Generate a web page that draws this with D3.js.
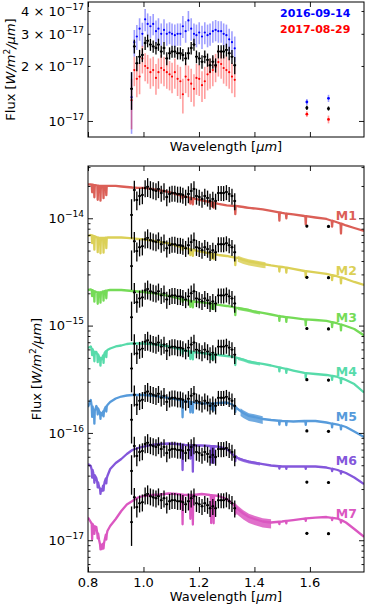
<!DOCTYPE html>
<html><head><meta charset="utf-8">
<script src="https://cdn.jsdelivr.net/npm/d3@7/dist/d3.min.js"></script>
<style>
html,body{margin:0;padding:0;background:#fff;}
svg{display:block;}
text{font-family:"DejaVu Sans","Liberation Sans",sans-serif;}
</style></head>
<body><svg id="chart" width="366" height="609"></svg>
<script>
// ---------------- DATA ----------------
const epochNames = ["2016-09-14", "2017-08-29"];
// IFS YJ channel wavelengths (micron)
const ifsWave = [0.957,0.967,0.976,0.986,0.996,1.006,1.015,1.025,1.035,1.045,1.054,1.064,1.074,1.084,1.094,1.103,1.113,1.123,1.133,1.142,1.152,1.162,1.172,1.182,1.191,1.201,1.211,1.221,1.231,1.240,1.250,1.260,1.270,1.280,1.289,1.299,1.309,1.319,1.329];
// combined spectrum (black), units 1e-17 W/m2/um
const fluxBlack = [1.50,2.56,2.07,2.25,2.30,2.67,2.75,2.62,2.56,2.51,2.62,2.40,2.51,2.20,2.35,2.40,2.40,2.35,2.35,2.30,2.20,2.35,2.51,2.62,2.25,2.20,2.11,2.25,2.16,2.02,2.11,2.02,2.40,2.40,2.40,2.45,2.35,2.25,2.02];
const errBlack  = [0.35,0.22,0.2,0.2,0.2,0.22,0.22,0.2,0.2,0.2,0.2,0.18,0.2,0.18,0.18,0.18,0.18,0.18,0.18,0.18,0.18,0.18,0.2,0.2,0.18,0.18,0.18,0.18,0.18,0.18,0.18,0.18,0.2,0.2,0.2,0.2,0.2,0.2,0.22];
// epoch 1 (blue) and epoch 2 (red)
const fluxBlue = [1.35,2.7,2.9,3.2,3.0,3.6,3.4,3.3,3.4,3.1,3.2,3.0,3.15,3.0,3.05,3.0,2.95,3.0,3.0,3.3,3.1,3.55,3.2,3.0,2.95,3.05,2.9,3.05,2.95,3.0,3.1,3.15,3.1,3.1,3.0,2.95,2.8,2.7,2.5];
const errBlue  = [0.5,0.45,0.45,0.45,0.45,0.5,0.48,0.45,0.45,0.45,0.45,0.42,0.45,0.42,0.42,0.42,0.42,0.42,0.42,0.45,0.42,0.45,0.45,0.42,0.42,0.42,0.42,0.42,0.42,0.42,0.42,0.42,0.42,0.42,0.42,0.42,0.4,0.4,0.4];
const fluxRed  = [1.3,1.9,1.7,1.75,2.2,2.0,1.95,1.85,1.9,1.72,1.85,1.95,1.9,1.85,1.8,1.75,1.85,1.7,1.65,1.4,1.75,1.68,1.6,1.5,1.72,1.7,1.57,1.65,1.8,1.85,1.9,1.98,2.1,2.05,1.95,1.9,1.85,1.75,1.68];
const errRed   = [0.4,0.35,0.35,0.35,0.38,0.35,0.35,0.35,0.35,0.33,0.35,0.35,0.35,0.35,0.33,0.33,0.35,0.33,0.33,0.3,0.33,0.33,0.33,0.3,0.33,0.33,0.3,0.33,0.33,0.35,0.35,0.35,0.35,0.35,0.35,0.35,0.35,0.33,0.33];
// relative error used in the model-comparison panel
const errFracModel = [0.4,0.22,0.2,0.18,0.18,0.18,0.2,0.18,0.18,0.18,0.18,0.17,0.18,0.18,0.17,0.17,0.17,0.17,0.17,0.17,0.17,0.18,0.18,0.18,0.17,0.17,0.17,0.17,0.17,0.17,0.17,0.17,0.16,0.16,0.16,0.16,0.16,0.17,0.18];
// IRDIS H2/H3 photometry
const photWave  = [1.589, 1.667];
const photBlack = [1.18, 1.17];
const photBlackErr = [0.03, 0.03];
const photBlue  = [1.27, 1.33];
const photBlueErr = [0.05, 0.06];
const photRed   = [1.09, 1.02];
const photRedErr = [0.04, 0.05];

// model spectra (units 1e-14 W/m2/um, before the vertical offset)
const modelNames = ["M1","M2","M3","M4","M5","M6","M7"];
const modelOffsets = [1, 3, 9, 27, 81, 243, 729];   // divisors
const dataScale = 717;                               // data -> model scaling
const modelWave = [0.80,0.81,0.82,0.83,0.84,0.85,0.86,0.87,0.88,0.90,0.92,0.94,0.96,0.98,1.00,1.03,1.06,1.09,1.12,1.15,1.18,1.21,1.24,1.27,1.30,1.32,1.34,1.36,1.38,1.40,1.43,1.46,1.50,1.54,1.58,1.62,1.66,1.70,1.73,1.76,1.795];
const modelM1 = [2.074,2.065,2.043,2.021,2.0,2.0,2.0,2.0,2.0,2.0,1.978,1.957,1.936,1.924,1.916,1.876,1.815,1.759,1.667,1.596,1.529,1.465,1.418,1.359,1.321,1.307,1.296,1.274,1.253,1.234,1.208,1.17,1.121,1.085,1.05,1.017,0.985,0.914,0.857,0.812,0.761];
const modelM2 = [2.052,2.096,2.052,2.009,1.966,1.966,1.966,1.987,1.987,1.987,1.987,1.966,1.945,1.924,1.904,1.863,1.803,1.748,1.656,1.586,1.52,1.456,1.41,1.365,1.336,1.307,1.28,1.226,1.187,1.162,1.125,1.09,1.055,1.011,0.968,0.938,0.908,0.861,0.816,0.765,0.717];
const modelM3 = [1.932,1.954,1.891,1.851,1.831,1.851,1.891,1.912,1.932,1.932,1.932,1.912,1.891,1.871,1.851,1.812,1.755,1.699,1.627,1.559,1.51,1.478,1.447,1.401,1.371,1.342,1.313,1.285,1.258,1.218,1.18,1.142,1.094,1.06,1.03,1.015,0.994,0.942,0.892,0.837,0.728];
const modelM4 = [1.67,1.725,1.533,1.533,1.377,1.319,1.5,1.6,1.652,1.725,1.762,1.82,1.84,1.84,1.84,1.82,1.781,1.725,1.652,1.582,1.533,1.5,1.468,1.437,1.406,1.385,1.347,1.305,1.25,1.223,1.185,1.147,1.087,1.03,0.977,0.956,0.936,0.897,0.84,0.771,0.643];
const modelM5 = [1.413,1.642,1.242,1.443,1.296,1.19,1.353,1.475,1.573,1.696,1.769,1.808,1.828,1.828,1.828,1.808,1.769,1.72,1.66,1.6,1.56,1.53,1.523,1.539,1.556,1.491,1.353,1.242,1.165,1.14,1.092,1.069,1.046,1.035,1.046,1.046,1.013,0.97,0.92,0.835,0.742];
const modelM6 = [1.247,1.195,1.006,0.924,0.761,0.699,0.848,0.964,1.121,1.274,1.389,1.546,1.685,1.759,1.815,1.876,1.916,1.936,1.916,1.876,1.856,1.856,1.835,1.815,1.721,1.546,1.418,1.359,1.316,1.288,1.247,1.208,1.182,1.182,1.182,1.182,1.157,1.097,1.028,0.934,0.812];
const modelM7 = [1.187,1.078,0.989,0.968,0.733,0.604,0.733,0.889,0.989,1.15,1.365,1.569,1.692,1.824,1.884,1.924,1.945,1.987,1.966,1.924,1.924,1.966,1.924,1.884,1.766,1.603,1.425,1.294,1.2,1.15,1.09,1.067,1.09,1.125,1.162,1.187,1.2,1.162,1.067,0.928,0.786];
// absorption lines: wavelength and line-core / continuum ratio per model
const lineWave = [0.815,0.823,0.835,0.845,0.856,0.866,1.141,1.169,1.178,1.244,1.253,1.331,1.49,1.515,1.585,1.68,1.712];
const lineM1 = [0.85,0.77,0.74,0.73,0.77,0.82,0.95,0.88,0.88,0.92,0.9,0.84,0.84,0.9,0.84,0.88,0.81];
const lineM2 = [0.85,0.75,0.73,0.72,0.73,0.8,0.95,0.88,0.88,0.9,0.9,0.85,0.9,0.9,0.88,0.9,0.88];
const lineM3 = [0.88,0.8,0.78,0.8,0.82,0.85,0.95,0.88,0.88,0.9,0.9,0.85,0.9,0.9,0.88,0.9,0.88];
const lineM4 = [0.88,0.82,0.85,0.85,0.85,0.88,0.92,0.85,0.85,0.9,0.9,0.85,0.92,0.92,0.9,0.92,0.9];
const lineM5 = [0.8,0.76,0.88,0.88,0.9,0.9,0.7,0.8,0.8,0.88,0.86,0.9,0.92,0.92,0.92,0.92,0.92];
const lineM6 = [0.85,0.85,0.9,0.9,0.9,0.9,0.58,0.75,0.57,0.7,0.7,0.9,0.95,0.95,0.95,0.95,0.95];
const lineM7 = [0.72,0.85,0.9,0.9,0.9,0.9,0.53,0.6,0.53,0.55,0.55,0.85,0.95,0.95,0.95,0.95,0.95];
// noisy (telluric) stretch per model: start, end (micron), fractional scatter
const noiseM = [[1.34,1.40,0.02],[1.34,1.44,0.08],[1.34,1.42,0.04],[1.34,1.42,0.04],[1.35,1.43,0.10],[1.34,1.42,0.04],[1.33,1.46,0.12]];

const xTickValues = [0.8, 1.0, 1.2, 1.4, 1.6];
const topYTickLabels = [[1e-17, "", "17"], [2e-17, "2 × ", "17"], [3e-17, "3 × ", "17"], [4e-17, "4 × ", "17"]];
const botYTickLabels = [[1e-17, "17"], [1e-16, "16"], [1e-15, "15"], [1e-14, "14"]];

// ---------------- LAYOUT / STYLE ----------------
const models = [modelM1, modelM2, modelM3, modelM4, modelM5, modelM6, modelM7];
const lineDepths = [lineM1, lineM2, lineM3, lineM4, lineM5, lineM6, lineM7];
const modelColors = ["#db5f57","#dbd057","#75db57","#57dbaa","#579bdb","#8457db","#db57c1"];
const labelY = [219.5, 274.5, 321.5, 376, 420.5, 465, 518];
const L = 88, R = 364, T1 = 2, B1 = 137, T2 = 166, B2 = 572;

const svg = d3.select("#chart");
const x = d3.scaleLinear().domain([0.8, 1.795]).range([L, R]);
const yTop = d3.scaleLog().domain([0.817e-17, 4.48e-17]).range([B1, T1]);
const yBot = d3.scaleLog().domain([5.06e-18, 3.07e-14]).range([B2, T2]);

const defs = svg.append("defs");
defs.append("clipPath").attr("id","clipTop").append("rect").attr("x",L).attr("y",T1).attr("width",R-L).attr("height",B1-T1);
defs.append("clipPath").attr("id","clipBot").append("rect").attr("x",L).attr("y",T2).attr("width",R-L).attr("height",B2-T2);

function errSeries(g, ys, waves, vals, errs, unit, color, barOp, barW, r, capHalf) {
  waves.forEach((w, i) => {
    const v = vals[i], e = errs[i];
    const lo = Math.max(v - e, v * 0.05);
    g.append("line").attr("x1", x(w)).attr("x2", x(w))
      .attr("y1", ys((v + e) * unit)).attr("y2", ys(lo * unit))
      .attr("stroke", color).attr("stroke-opacity", barOp).attr("stroke-width", barW);
    if (capHalf) g.append("line").attr("x1", x(w) - capHalf).attr("x2", x(w) + capHalf)
      .attr("y1", ys(v * unit)).attr("y2", ys(v * unit)).attr("stroke", color).attr("stroke-width", 1.2);
    g.append("circle").attr("cx", x(w)).attr("cy", ys(v * unit)).attr("r", r).attr("fill", color);
  });
}

// ---------- top panel ----------
const gTop = svg.append("g").attr("clip-path", "url(#clipTop)");
errSeries(gTop, yTop, ifsWave, fluxBlue, errBlue, 1e-17, "#0000ff", 0.38, 1.6, 1.1, 0);
errSeries(gTop, yTop, photWave, photBlue, photBlueErr, 1e-17, "#0000ff", 0.38, 1.6, 1.4, 0);
errSeries(gTop, yTop, ifsWave, fluxRed, errRed, 1e-17, "#ff0000", 0.38, 1.6, 1.1, 0);
errSeries(gTop, yTop, photWave, photRed, photRedErr, 1e-17, "#ff0000", 0.38, 1.6, 1.4, 0);
errSeries(gTop, yTop, ifsWave, fluxBlack, errBlack, 1e-17, "#000", 1, 1.3, 1.2, 1.4);
errSeries(gTop, yTop, photWave, photBlack, photBlackErr, 1e-17, "#000", 1, 1.3, 1.5, 0);

// ---------- bottom panel ----------
const gBot = svg.append("g").attr("clip-path", "url(#clipBot)");
function interpLog(k, w) {
  const mv = models[k];
  for (let i = 0; i < modelWave.length - 1; i++) {
    if (w >= modelWave[i] && w <= modelWave[i+1]) {
      const t = (w - modelWave[i]) / (modelWave[i+1] - modelWave[i]);
      return Math.exp(Math.log(mv[i]) * (1 - t) + Math.log(mv[i+1]) * t);
    }
  }
  return mv[mv.length - 1];
}
models.forEach((mv, k) => {
  const yk = v => yBot(v * 1e-14 / modelOffsets[k]);
  // noisy stretch as a band
  const [n0, n1, na] = noiseM[k];
  const bandW = modelWave.filter(w => w > n0 && w < n1);
  const band = [n0].concat(bandW, [n1]).map(w => [w, interpLog(k, w)]);
  gBot.append("path").attr("d", d3.area().x(d => x(d[0])).y0(d => yk(d[1] * (1 - na))).y1(d => yk(d[1] * (1 + na * 0.6)))(band))
    .attr("fill", modelColors[k]).attr("opacity", 0.85);
  const pts = modelWave.map((w, i) => [w, mv[i]]);
  lineWave.forEach((w, j) => {
    const c = interpLog(k, w);
    pts.push([w - 0.0015, c], [w, c * lineDepths[k][j]], [w + 0.0015, c]);
  });
  pts.sort((a, b) => a[0] - b[0]);
  const line = d3.line().x(d => x(d[0])).y(d => yk(d[1]));
  gBot.append("path").attr("d", line(pts)).attr("fill", "none")
    .attr("stroke", modelColors[k]).attr("stroke-width", 2.3).attr("stroke-linejoin", "round");
});
models.forEach((mv, k) => {
  const vals = fluxBlack.map(f => f * dataScale / modelOffsets[k]);
  const errs = vals.map((v, i) => v * errFracModel[i]);
  errSeries(gBot, yBot, ifsWave, vals, errs, 1e-17, "#000", 1, 1.3, 1.2, 1.4);
  const pv = photBlack.map(f => f * dataScale / modelOffsets[k]);
  const pe = pv.map((v, i) => v * photBlackErr[i] / photBlack[i]);
  errSeries(gBot, yBot, photWave, pv, pe, 1e-17, "#000", 1, 1.4, 1.6, 0);
});

// ---------- axes ----------
function drawAxes(T, B, ys, major, minor) {
  const g = svg.append("g");
  g.append("g").attr("transform", `translate(0,${B})`).call(d3.axisBottom(x).tickValues(xTickValues).tickSize(-5).tickFormat(""));
  g.append("g").attr("transform", `translate(0,${T})`).call(d3.axisTop(x).tickValues(xTickValues).tickSize(-5).tickFormat(""));
  g.append("g").attr("transform", `translate(${L},0)`).call(d3.axisLeft(ys).tickValues(major).tickSize(-5).tickFormat(""));
  g.append("g").attr("transform", `translate(${R},0)`).call(d3.axisRight(ys).tickValues(major).tickSize(-5).tickFormat(""));
  g.append("g").attr("transform", `translate(${L},0)`).call(d3.axisLeft(ys).tickValues(minor).tickSize(-2.5).tickFormat(""));
  g.append("g").attr("transform", `translate(${R},0)`).call(d3.axisRight(ys).tickValues(minor).tickSize(-2.5).tickFormat(""));
  g.selectAll(".domain").remove();
  g.selectAll(".tick line").attr("stroke", "#000").attr("stroke-width", 0.9);
  svg.append("rect").attr("x", L).attr("y", T).attr("width", R - L).attr("height", B - T)
    .attr("fill", "none").attr("stroke", "#000").attr("stroke-width", 1);
}
drawAxes(T1, B1, yTop, [1e-17], [2e-17, 3e-17, 4e-17]);
const botMinor = yBot.ticks().filter(v => Math.abs(Math.log10(v) - Math.round(Math.log10(v))) > 1e-6);
drawAxes(T2, B2, yBot, botYTickLabels.map(d => d[0]), botMinor);

// tick labels
function sciLabel(xp, yp, mant, exp) {
  const t = svg.append("text").attr("x", xp).attr("y", yp).attr("text-anchor", "end").attr("font-size", 13).attr("fill", "#000");
  t.append("tspan").text(mant + "10");
  t.append("tspan").attr("dy", -6).attr("font-size", 9).text("\u2212" + exp);
}
topYTickLabels.forEach(d => sciLabel(84, yTop(d[0]) + 4.7, d[1], d[2]));
botYTickLabels.forEach(d => sciLabel(84, yBot(d[0]) + 4.7, "", d[1]));
xTickValues.forEach(v => {
  svg.append("text").attr("x", x(v)).attr("y", 586.5).attr("text-anchor", "middle")
    .attr("font-size", 13).text(d3.format(".1f")(v));
});

// axis labels
function xLabel(yb) {
  const t = svg.append("text").attr("x", (L + R) / 2).attr("y", yb).attr("text-anchor", "middle").attr("font-size", 13);
  t.append("tspan").text("Wavelength [");
  t.append("tspan").attr("font-style", "italic").text("\u03bcm");
  t.append("tspan").text("]");
}
xLabel(150.5);
xLabel(601);
function yLabel(xb, yc) {
  const t = svg.append("text").attr("transform", `translate(${xb},${yc}) rotate(-90)`)
    .attr("text-anchor", "middle").attr("font-size", 13);
  t.append("tspan").text("Flux [");
  t.append("tspan").attr("font-style", "italic").text("W/m");
  t.append("tspan").attr("font-size", 9).attr("dy", -5).text("2");
  t.append("tspan").attr("font-style", "italic").attr("dy", 5).text("/\u03bcm");
  t.append("tspan").text("]");
}
yLabel(15, 69.5);
yLabel(41, 369);

// legend
svg.append("text").attr("x", 280).attr("y", 17).attr("font-size", 11).attr("font-weight", "bold").attr("fill", "#0000ff").text(epochNames[0]);
svg.append("text").attr("x", 280).attr("y", 33).attr("font-size", 11).attr("font-weight", "bold").attr("fill", "#ff0000").text(epochNames[1]);

// model labels
modelNames.forEach((n, k) => {
  svg.append("text").attr("x", 357).attr("y", labelY[k]).attr("text-anchor", "end")
    .attr("font-size", 12.5).attr("font-weight", "bold").attr("fill", modelColors[k]).text(n);
});
</script></body></html>
